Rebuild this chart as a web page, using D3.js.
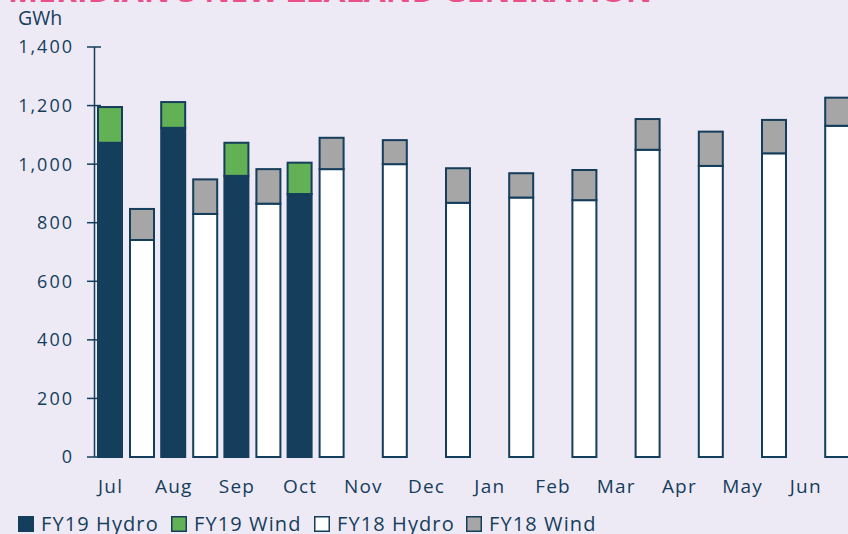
<!DOCTYPE html>
<html><head><meta charset="utf-8">
<script src="https://cdn.jsdelivr.net/npm/d3@7"></script>
<style>
html,body{margin:0;padding:0;background:#eeeaf5;}
svg{display:block;font-family:"Open Sans",sans-serif;}
</style></head>
<body>
<svg id="chart" width="848" height="534"></svg>
<script>
const months = ["Jul","Aug","Sep","Oct","Nov","Dec","Jan","Feb","Mar","Apr","May","Jun"];
const fy19Hydro = [1073, 1124, 960, 898, null, null, null, null, null, null, null, null];
const fy19Wind  = [122, 88, 113, 107, null, null, null, null, null, null, null, null];
const fy18Hydro = [741, 830, 865, 983, 1000, 868, 886, 877, 1049, 994, 1037, 1131];
const fy18Wind  = [106, 118, 118, 107, 82, 118, 83, 103, 105, 117, 114, 96];
const yTicks = [0, 200, 400, 600, 800, 1000, 1200, 1400];
const series = ["FY19", "FY18"];
const legendItems = ["FY19 Hydro", "FY19 Wind", "FY18 Hydro", "FY18 Wind"];
const title = "MERIDIAN'S NEW ZEALAND GENERATION";
const unitLabel = "GWh";

const navy = "#153d5c", green = "#62b155", white = "#ffffff", gray = "#a6a6a6", pink = "#ea4f8a";
const colors = {"FY19 Hydro": navy, "FY19 Wind": green, "FY18 Hydro": white, "FY18 Wind": gray};

const svg = d3.select("#chart");
const y = d3.scaleLinear().domain([0, 1400]).range([457, 47]);
const x = d3.scaleBand().domain(months).range([94, 94 + 12 * 63.2]);
const xs = d3.scaleBand().domain(series).range([0, 64]).paddingInner(0.1875).paddingOuter(0.09375);

// title (clipped at top, as in the reference)
svg.append("text").attr("x", 8).attr("y", 1.5).attr("fill", pink)
  .attr("font-weight", 700).attr("font-size", 28).attr("textLength", 644)
  .attr("lengthAdjust", "spacingAndGlyphs").text(title);

svg.append("text").attr("x", 18).attr("y", 25).attr("fill", navy)
  .attr("font-size", 19.5).text(unitLabel);

// y axis
const ax = svg.append("g");
ax.append("line").attr("x1", 94.5).attr("x2", 94.5).attr("y1", y(1400)).attr("y2", y(0))
  .attr("stroke", navy).attr("stroke-width", 1.5);
yTicks.forEach(t => {
  ax.append("line").attr("x1", 87).attr("x2", 101).attr("y1", y(t)).attr("y2", y(t))
    .attr("stroke", navy).attr("stroke-width", 1.5);
  ax.append("text").attr("x", 74).attr("y", y(t)).attr("dy", "0.36em")
    .attr("text-anchor", "end").attr("fill", navy).attr("font-size", 18)
    .attr("letter-spacing", 2)
    .text(d3.format(",")(t));
});

// bars
const data = [];
months.forEach((m, i) => {
  if (fy19Hydro[i] != null) {
    data.push({m, s: "FY19", y0: 0, y1: fy19Hydro[i], c: colors["FY19 Hydro"]});
    data.push({m, s: "FY19", y0: fy19Hydro[i], y1: fy19Hydro[i] + fy19Wind[i], c: colors["FY19 Wind"]});
  }
  if (fy18Hydro[i] != null) {
    data.push({m, s: "FY18", y0: 0, y1: fy18Hydro[i], c: colors["FY18 Hydro"]});
    data.push({m, s: "FY18", y0: fy18Hydro[i], y1: fy18Hydro[i] + fy18Wind[i], c: colors["FY18 Wind"]});
  }
});
svg.append("g").selectAll("rect").data(data).join("rect")
  .attr("x", d => x(d.m) + xs(d.s) + 1)
  .attr("width", xs.bandwidth() - 2)
  .attr("y", d => y(d.y1))
  .attr("height", d => y(d.y0) - y(d.y1))
  .attr("fill", d => d.c)
  .attr("stroke", navy).attr("stroke-width", 2);

// x labels
svg.append("g").selectAll("text").data(months).join("text")
  .attr("x", d => x(d) + xs("FY19") + xs.bandwidth() / 2 + 0.6)
  .attr("y", 493).attr("text-anchor", "middle").attr("fill", navy).attr("font-size", 19)
  .attr("letter-spacing", 1.2)
  .text(d => d);

// legend
const lg = svg.append("g");
const lx = [18, 171, 314, 466];
legendItems.forEach((it, i) => {
  lg.append("rect").attr("x", lx[i] + 0.75).attr("y", 516.75).attr("width", 14.5).attr("height", 14.5)
    .attr("fill", colors[it]).attr("stroke", navy).attr("stroke-width", 1.5);
  lg.append("text").attr("x", lx[i] + 23).attr("y", 531).attr("fill", navy).attr("font-size", 20)
    .attr("letter-spacing", 1.1).text(it);
});
</script>
</body></html>
